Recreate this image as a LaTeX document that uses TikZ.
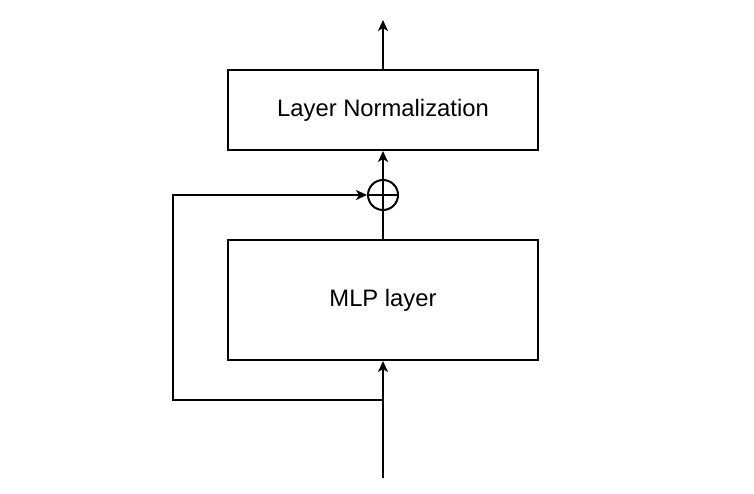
\documentclass[tikz,border=0pt]{standalone}
\usepackage{fontspec}
\setmainfont{Liberation Sans}
\usetikzlibrary{positioning, arrows.meta, calc}
\begin{document}
\begin{tikzpicture}[x=1pt, y=-1pt, line width=2pt, >={Stealth[length=11pt, width=10pt, inset=3pt]}]
		% 定义节点样式
			\tikzstyle{block} = [draw, rectangle, minimum width=310pt, align=center, font=\fontsize{23.8}{28}\selectfont]
			\tikzstyle{sum} = [draw, circle, minimum size=30pt, inner sep=0pt]
			
			\useasboundingbox (0,0) rectangle (754,493);
			
			%绘制节点
			\node [block, minimum height=80pt] (norm) at (383,110) {\raisebox{-2pt}{Layer Normalization}};
			\node [sum] (add) at (383,195) {};
			\node [block, minimum height=120pt] (mlp) at (383,300) {\raisebox{-2pt}{MLP layer}};
			
			\coordinate (output) at (383,20);
			\coordinate (input) at (383,478);
			\coordinate (branch) at (383,400);
			\coordinate (skip) at (173,195);
			
			\draw (add.north) -- (add.south);
			\draw (add.west) -- (add.east);
			
			\draw[->] (norm) -- (output);
			\draw[->] (add) -- (norm);
			\draw (mlp) -- (add);
			\draw[->] (input) -- (mlp);
			\draw[->] (branch) -| (skip) -- (add);
		\end{tikzpicture}
\end{document}
